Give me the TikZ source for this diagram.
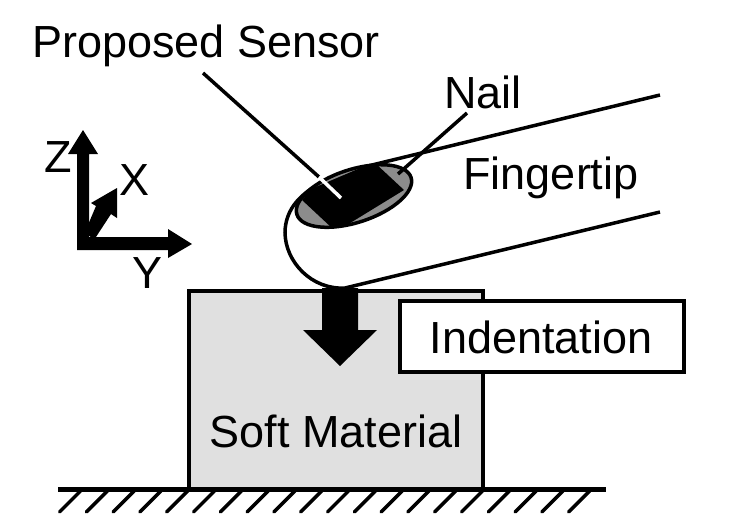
\documentclass[tikz,border=0pt]{standalone}
\usepackage{fontspec}
\setmainfont{Liberation Sans}
\tikzset{
  x=1pt,y=-1pt,
  outline/.style={draw=black,line width=3.5pt,outer sep=0pt},
  label text/.style={inner sep=0pt,font=\fontsize{45}{49}\selectfont},
  leader/.style={draw=black,line width=3.5pt},
  solid arrow/.style={fill=black,draw=none},
  nail shape/.style={shift={(354,196)},rotate=18},
}
\begin{document}
\begin{tikzpicture}
\useasboundingbox (0,0) rectangle (750,515);

% Soft block on the ground
\node[outline,fill=black!12,minimum width=294pt,minimum height=198pt,inner sep=0pt,anchor=north west] (block) at (189,291) {};
\coordinate (groundL) at (58,489.5);
\coordinate (groundR) at (606,489.5);
\draw[line width=4.5pt] (groundL) -- (groundR);
\foreach \k in {0,...,19}
  \draw[line width=3.5pt,line cap=round] ({80.5+26.8*\k},491) -- ++(-21,21);
\node[label text] (soft) at (336,431) {Soft Material};

% Fingertip outline
\coordinate (fingerTopEnd) at (660,95);
\coordinate (fingerLowEnd) at (660,212);
\draw[line width=3.5pt,fill=white]
  (fingerTopEnd) -- (372,165)
  .. controls (335,175) and (286,190) .. (285,232)
  .. controls (285,262) and (312,290) .. (345,288)
  -- (fingerLowEnd);

% Nail with the sensor band
\fill[black!45,nail shape] (0,0) ellipse [x radius=60,y radius=26.5];
\begin{scope}
  \clip[nail shape] (0,0) ellipse [x radius=60,y radius=26.5];
  \fill[black] (302,200) -- (311,189) -- (358,169) -- (375,163) -- (404,190)
    -- (342,228) -- (332,228) -- cycle;
\end{scope}
\draw[line width=3.5pt,nail shape] (0,0) ellipse [x radius=60,y radius=26.5];

% Labels and their leader lines
\node[label text] (sensor) at (206,46) {Proposed Sensor};
\node[label text] (nail) at (483,92) {Nail};
\node[label text] (finger) at (551,178) {Fingertip};
\coordinate (sensorFoot) at (203,73);
\coordinate (sensorEdge) at (319,177);
\coordinate (sensorIn) at (341,198);
\coordinate (nailFoot) at (467,113);
\coordinate (nailIn) at (398,174);
\draw[leader] (sensorFoot) -- (sensorEdge);
\draw[line width=3.5pt,white] (sensorEdge) -- (sensorIn);
\draw[leader] (nailFoot) -- (nailIn);

% Pressing direction and its caption
\fill[solid arrow] (322,288) -- (358,288) -- (358,330) -- (377,330) -- (340,366) -- (303,330) -- (322,330) -- cycle;
\node[outline,fill=white,minimum width=284pt,minimum height=71pt,inner sep=0pt,anchor=north west] (indent) at (400,301) {};
\node[label text] (indentText) at (541,337) {Indentation};

% Coordinate axes
\fill[solid arrow] (77,250) -- (77,154) -- (68,154) -- (83,130) -- (98,154) -- (89,154) -- (89,237)
  -- (168,237) -- (168,229) -- (192,244) -- (168,258) -- (168,250) -- cycle;
\fill[solid arrow] (85,232) -- (96,206) -- (91,203) -- (117,188) -- (117,218) -- (111,214) -- (94,240) -- cycle;
\node[label text] (zLabel) at (58,157) {Z};
\node[label text] (xLabel) at (135,180) {X};
\node[label text] (yLabel) at (148,273) {Y};
\end{tikzpicture}
\end{document}
